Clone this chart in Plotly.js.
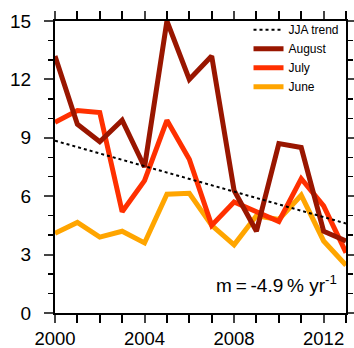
<!DOCTYPE html>
<html>
<head>
<meta charset="utf-8">
<script src="https://cdn.plot.ly/plotly-3.0.1.min.js"></script>
<style>html,body{margin:0;padding:0;background:#fff;}#chart{width:354px;height:348px;}</style>
</head>
<body>
<div id="chart"></div>
<script>
var years = [2000,2001,2002,2003,2004,2005,2006,2007,2008,2009,2010,2011,2012,2013];
var august = [13.2,9.7,8.8,9.9,7.5,15.0,12.0,13.2,6.3,4.2,8.7,8.5,4.2,3.7];
var july   = [9.8,10.4,10.3,5.2,6.8,9.9,7.9,4.5,5.7,5.2,4.7,6.9,5.5,3.1];
var june   = [4.1,4.65,3.9,4.2,3.6,6.1,6.15,4.5,3.5,5.0,4.8,6.05,3.7,2.45];
var trendYears = [2000,2013];
var trendValues = [8.85,4.6];
var trendLabel = "m\u2009=\u2009-4.9\u2009% yr<sup>-1</sup>";

var traces = [
  {x: years, y: june, mode: 'lines', name: 'June', line: {color: '#ffa500', width: 5}},
  {x: years, y: july, mode: 'lines', name: 'July', line: {color: '#ff3000', width: 5}},
  {x: years, y: august, mode: 'lines', name: 'August', line: {color: '#991600', width: 5}},
  {x: trendYears, y: trendValues, mode: 'lines', name: 'JJA trend', line: {color: '#000', width: 2, dash: 'dot'}}
];

var layout = {
  width: 354, height: 348,
  margin: {l: 55, r: 8, t: 21, b: 35},
  paper_bgcolor: '#fff', plot_bgcolor: '#fff',
  font: {family: 'Liberation Sans, Arial, sans-serif', color: '#000'},
  showlegend: true,
  legend: {x: 0.665, y: 1.02, xanchor: 'left', yanchor: 'top', traceorder: 'reversed',
           bgcolor: 'rgba(0,0,0,0)', font: {size: 12}, itemwidth: 30, tracegroupgap: 0},
  xaxis: {range: [2000, 2013], dtick: 4, tick0: 2000, ticks: 'outside', ticklen: 8, tickwidth: 2,
          showline: true, linewidth: 2, linecolor: '#000', mirror: 'ticks', showgrid: false, zeroline: false,
          tickfont: {size: 18.5}, ticklabelstandoff: 0,
          minor: {dtick: 1, tick0: 2000, ticks: 'outside', ticklen: 8, tickwidth: 2, tickcolor: '#000', showgrid: false}},
  yaxis: {range: [0, 15], dtick: 3, tick0: 0, ticks: 'outside', ticklen: 9, tickwidth: 2,
          showline: true, linewidth: 2, linecolor: '#000', mirror: 'ticks', showgrid: false, zeroline: false,
          tickfont: {size: 19}, ticklabelstandoff: 9,
          minor: {dtick: 1, tick0: 0, ticks: 'outside', ticklen: 5, tickwidth: 1.5, tickcolor: '#000', showgrid: false}},
  annotations: [{xref: 'paper', yref: 'paper', x: 0.975, y: 0.1, xanchor: 'right', yanchor: 'middle',
                 text: trendLabel, showarrow: false, font: {size: 19, color: '#000'}}]
};

Plotly.newPlot('chart', traces, layout, {displayModeBar: false, staticPlot: true});
</script>
</body>
</html>
